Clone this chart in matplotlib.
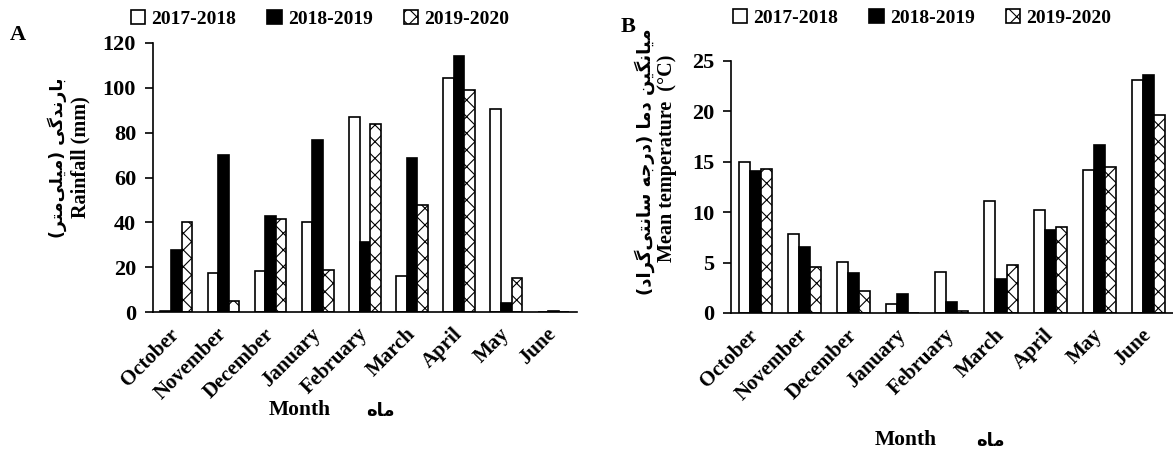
import matplotlib
matplotlib.use('Agg')
import matplotlib.pyplot as plt
import numpy as np

# ---------------- data ----------------
months = ['October', 'November', 'December', 'January', 'February',
          'March', 'April', 'May', 'June']
seasons = ['2017-2018', '2018-2019', '2019-2020']

rain_2017 = [0.3, 17.5, 18.2, 40.0, 87.1, 15.9, 104.6, 90.4, 0.0]
rain_2018 = [27.7, 69.9, 42.7, 76.6, 31.1, 68.6, 114.0, 4.0, 0.3]
rain_2019 = [40.0, 4.7, 41.6, 18.8, 83.9, 47.7, 99.0, 15.1, 0.0]

temp_2017 = [15.0, 7.8, 5.1, 0.9, 4.1, 11.1, 10.2, 14.2, 23.1]
temp_2018 = [14.1, 6.5, 4.0, 1.9, 1.1, 3.4, 8.2, 16.6, 23.6]
temp_2019 = [14.3, 4.6, 2.2, 0.0, 0.2, 4.8, 8.5, 14.5, 19.6]

rain_ticks = [0, 20, 40, 60, 80, 100, 120]
temp_ticks = [0, 5, 10, 15, 20, 25]

rain_label_en = 'Rainfall (mm)'
rain_label_fa = 'بارندگی (میلی\u200cمتر)'
temp_label_en = 'Mean temperature  (°C)'
temp_label_fa = 'میانگین دما (درجه سانتی\u200cگراد)'
month_label_en = 'Month'
month_label_fa = 'ماه'

# ------------- simple Persian shaping (presentation forms, visual order) -------------
DUAL = {
    '\u0628': ('\uFE8F', '\uFE90', '\uFE91', '\uFE92'),  # beh
    '\u0646': ('\uFEE5', '\uFEE6', '\uFEE7', '\uFEE8'),  # noon
    '\u06AF': ('\uFB92', '\uFB93', '\uFB94', '\uFB95'),  # gaf
    '\u06CC': ('\uFBFC', '\uFBFD', '\uFBFE', '\uFBFF'),  # farsi yeh
    '\u0645': ('\uFEE1', '\uFEE2', '\uFEE3', '\uFEE4'),  # meem
    '\u0644': ('\uFEDD', '\uFEDE', '\uFEDF', '\uFEE0'),  # lam
    '\u062A': ('\uFE95', '\uFE96', '\uFE97', '\uFE98'),  # teh
    '\u062C': ('\uFE9D', '\uFE9E', '\uFE9F', '\uFEA0'),  # jeem
    '\u0647': ('\uFEE9', '\uFEEA', '\uFEEB', '\uFEEC'),  # heh
    '\u0633': ('\uFEB1', '\uFEB2', '\uFEB3', '\uFEB4'),  # seen
}
RIGHT = {
    '\u0627': ('\uFE8D', '\uFE8E'),  # alef
    '\u0631': ('\uFEAD', '\uFEAE'),  # reh
    '\u062F': ('\uFEA9', '\uFEAA'),  # dal
}
MIRROR = {'(': ')', ')': '('}


def shape_fa(s):
    chars = list(s)
    out = []
    for i, c in enumerate(chars):
        if c == '\u200c':
            continue
        if c not in DUAL and c not in RIGHT:
            out.append(MIRROR.get(c, c))
            continue
        prev = chars[i - 1] if i > 0 else None
        nxt = chars[i + 1] if i + 1 < len(chars) else None
        jp = prev in DUAL
        jn = (c in DUAL) and (nxt in DUAL or nxt in RIGHT)
        if c in DUAL:
            iso, fin, ini, med = DUAL[c]
            out.append(med if (jp and jn) else fin if jp else ini if jn else iso)
        else:
            iso, fin = RIGHT[c]
            out.append(fin if jp else iso)
    return ''.join(reversed(out))


# ---------------- style ----------------
W, H, DPI = 1173, 450, 100
SERIF = 'Liberation Serif'
FA = 'DejaVu Sans'
plt.rcParams['font.family'] = [SERIF, 'DejaVu Serif']
plt.rcParams['font.weight'] = 'bold'
plt.rcParams['hatch.linewidth'] = 0.8

fig = plt.figure(figsize=(W / DPI, H / DPI), dpi=DPI)


def px_axes(left, top, right, bottom):
    return fig.add_axes([left / W, 1 - bottom / H, (right - left) / W, (bottom - top) / H])


axA = px_axes(152.7, 43, 577, 312)
axB = px_axes(730.7, 60.7, 1173, 313)

bw = 0.225
styles = [dict(color='white', edgecolor='black', hatch=None),
          dict(color='black', edgecolor='black', hatch=None),
          dict(color='white', edgecolor='black', hatch='xx')]


def draw(ax, series, ticks, ymax):
    x = np.arange(len(months))
    handles = []
    for k, (vals, st) in enumerate(zip(series, styles)):
        b = ax.bar(x + (k - 1) * bw, vals, width=bw, facecolor=st['color'],
                   edgecolor=st['edgecolor'], hatch=st['hatch'], linewidth=1.2,
                   label=seasons[k])
        handles.append(b)
    ax.set_xlim(-0.5, len(months) - 0.5)
    ax.set_ylim(0, ymax)
    ax.set_yticks(ticks)
    ax.set_yticklabels([str(t) for t in ticks], fontsize=16, fontweight='bold', family=SERIF)
    ax.set_xticks(x)
    ax.set_xticklabels(months, rotation=45, ha='right', va='center',
                       rotation_mode='anchor', fontsize=15, fontweight='bold', family=SERIF)
    ax.tick_params(axis='x', length=0, pad=14)
    ax.tick_params(axis='y', length=6, width=1.2, direction='out', pad=6)
    for s in ['top', 'right']:
        ax.spines[s].set_visible(False)
    for s in ['left', 'bottom']:
        ax.spines[s].set_linewidth(1.2)
    return handles


hA = draw(axA, [rain_2017, rain_2018, rain_2019], rain_ticks, 120)
hB = draw(axB, [temp_2017, temp_2018, temp_2019], temp_ticks, 25)

leg_kw = dict(loc='center', ncol=3, frameon=False,
              prop={'family': SERIF, 'weight': 'bold', 'size': 14},
              handlelength=0.75, handleheight=0.75, handletextpad=0.3,
              columnspacing=1.6, borderpad=0, borderaxespad=0)
fig.legend(hA, seasons, bbox_to_anchor=(320 / W, 1 - 19 / H), **leg_kw)
fig.legend(hB, seasons, bbox_to_anchor=(922 / W, 1 - 18 / H), **leg_kw)

# panel letters
fig.text(18 / W, 1 - 35 / H, 'A', fontsize=16, fontweight='bold', family=SERIF,
         ha='center', va='center')
fig.text(628 / W, 1 - 27 / H, 'B', fontsize=16, fontweight='bold', family=SERIF,
         ha='center', va='center')

# y labels
fig.text(80 / W, 1 - 157 / H, rain_label_en, rotation=90, fontsize=14.5, fontweight='bold',
         family=SERIF, ha='center', va='center')
fig.text(57 / W, 1 - 158 / H, shape_fa(rain_label_fa), rotation=90, fontsize=12.5,
         fontweight='bold', family=FA, ha='center', va='center')
fig.text(667 / W, 1 - 158 / H, temp_label_en, rotation=90, fontsize=14.5, fontweight='bold',
         family=SERIF, ha='center', va='center')
fig.text(645 / W, 1 - 162 / H, shape_fa(temp_label_fa), rotation=90, fontsize=13,
         fontweight='bold', family=FA, ha='center', va='center')

# x labels
fig.text(300 / W, 1 - 410 / H, month_label_en, fontsize=15.5, fontweight='bold', family=SERIF,
         ha='center', va='center')
fig.text(380 / W, 1 - 411 / H, shape_fa(month_label_fa), fontsize=13, fontweight='bold',
         family=FA, ha='center', va='center')
fig.text(906 / W, 1 - 440 / H, month_label_en, fontsize=15.5, fontweight='bold', family=SERIF,
         ha='center', va='center')
fig.text(990 / W, 1 - 441 / H, shape_fa(month_label_fa), fontsize=13, fontweight='bold',
         family=FA, ha='center', va='center')

fig.savefig('out.png', dpi=DPI)
